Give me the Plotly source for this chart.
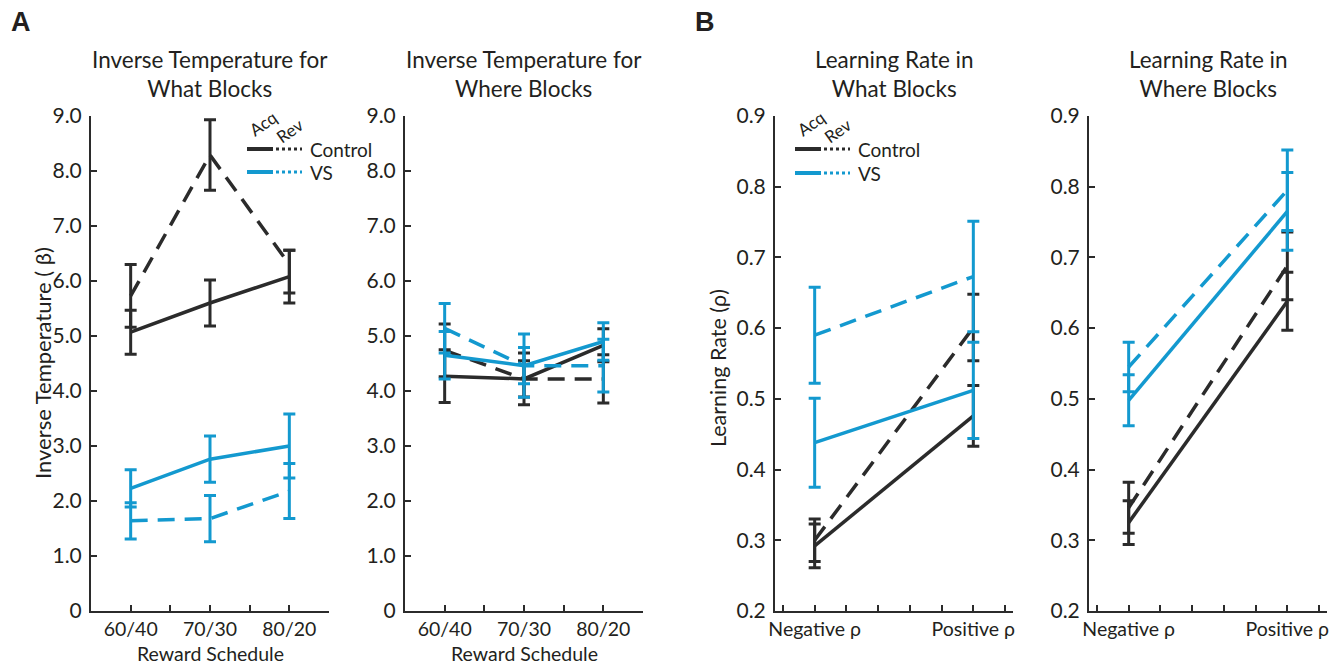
import plotly.graph_objects as go

# ---------------- data ----------------
schedules = ["60/40", "70/30", "80/20"]
signs = ["Negative ρ", "Positive ρ"]

# Inverse temperature, What blocks
beta_what_ctrl_acq = [5.07, 5.60, 6.08]
beta_what_ctrl_acq_err = [0.40, 0.42, 0.48]
beta_what_ctrl_rev = [5.73, 8.29, 6.30]
beta_what_ctrl_rev_err_up = [0.57, 0.64, 0.26]
beta_what_ctrl_rev_err_dn = [0.57, 0.64, 0.52]
beta_what_vs_acq = [2.23, 2.76, 3.00]
beta_what_vs_acq_err = [0.34, 0.42, 0.58]
beta_what_vs_rev = [1.64, 1.68, 2.18]
beta_what_vs_rev_err = [0.33, 0.42, 0.50]

# Inverse temperature, Where blocks
beta_where_ctrl_acq = [4.27, 4.22, 4.83]
beta_where_ctrl_acq_err = [0.48, 0.47, 0.30]
beta_where_ctrl_rev = [4.74, 4.22, 4.22]
beta_where_ctrl_rev_err = [0.48, 0.33, 0.44]
beta_where_vs_acq = [4.65, 4.46, 4.90]
beta_where_vs_acq_err = [0.43, 0.575, 0.34]
beta_where_vs_rev = [5.14, 4.46, 4.46]
beta_where_vs_rev_err = [0.45, 0.33, 0.48]

# Learning rate, What blocks
lr_what_ctrl_acq = [0.292, 0.476]
lr_what_ctrl_acq_err = [0.031, 0.043]
lr_what_ctrl_rev = [0.300, 0.601]
lr_what_ctrl_rev_err = [0.030, 0.047]
lr_what_vs_acq = [0.438, 0.512]
lr_what_vs_acq_err = [0.063, 0.068]
lr_what_vs_rev = [0.590, 0.673]
lr_what_vs_rev_err = [0.068, 0.078]

# Learning rate, Where blocks
lr_where_ctrl_acq = [0.325, 0.638]
lr_where_ctrl_acq_err = [0.031, 0.041]
lr_where_ctrl_rev = [0.346, 0.688]
lr_where_ctrl_rev_err = [0.036, 0.048]
lr_where_vs_acq = [0.498, 0.765]
lr_where_vs_acq_err = [0.036, 0.055]
lr_where_vs_rev = [0.545, 0.795]
lr_where_vs_rev_err = [0.035, 0.057]

beta_ticks = [0, 1, 2, 3, 4, 5, 6, 7, 8, 9]
lr_ticks = [0.2, 0.3, 0.4, 0.5, 0.6, 0.7, 0.8, 0.9]

# ---------------- style ----------------
W, H = 1342, 667
BLACK = "#2b2b2b"
BLUE = "#1399cf"
TXT = "#231f20"
FONT = "Lato"
DASH = "17px,10px"
LW = 3.5


def px(x):
    return x / W


def py(y):
    return 1 - y / H


fig = go.Figure()

xa = {1: "x", 2: "x2", 3: "x3", 4: "x4"}
ya = {1: "y", 2: "y2", 3: "y3", 4: "y4"}


def add(panel, xs, ys, err, color, dashed, err_dn=None):
    e = dict(type="data", array=err, visible=True, color=color,
             thickness=3, width=6)
    if err_dn is not None:
        e["symmetric"] = False
        e["arrayminus"] = err_dn
    fig.add_trace(go.Scatter(
        x=xs, y=ys, mode="lines", xaxis=xa[panel], yaxis=ya[panel],
        line=dict(color=color, width=LW, dash=DASH if dashed else "solid"),
        error_y=e, showlegend=False, hoverinfo="skip"))


xs3 = list(range(1, len(schedules) + 1))
xs2 = list(range(1, len(signs) + 1))

add(1, xs3, beta_what_ctrl_rev, beta_what_ctrl_rev_err_up, BLACK, True, beta_what_ctrl_rev_err_dn)
add(1, xs3, beta_what_ctrl_acq, beta_what_ctrl_acq_err, BLACK, False)
add(1, xs3, beta_what_vs_rev, beta_what_vs_rev_err, BLUE, True)
add(1, xs3, beta_what_vs_acq, beta_what_vs_acq_err, BLUE, False)

add(2, xs3, beta_where_ctrl_rev, beta_where_ctrl_rev_err, BLACK, True)
add(2, xs3, beta_where_ctrl_acq, beta_where_ctrl_acq_err, BLACK, False)
add(2, xs3, beta_where_vs_rev, beta_where_vs_rev_err, BLUE, True)
add(2, xs3, beta_where_vs_acq, beta_where_vs_acq_err, BLUE, False)

add(3, xs2, lr_what_ctrl_rev, lr_what_ctrl_rev_err, BLACK, True)
add(3, xs2, lr_what_ctrl_acq, lr_what_ctrl_acq_err, BLACK, False)
add(3, xs2, lr_what_vs_rev, lr_what_vs_rev_err, BLUE, True)
add(3, xs2, lr_what_vs_acq, lr_what_vs_acq_err, BLUE, False)

add(4, xs2, lr_where_ctrl_rev, lr_where_ctrl_rev_err, BLACK, True)
add(4, xs2, lr_where_ctrl_acq, lr_where_ctrl_acq_err, BLACK, False)
add(4, xs2, lr_where_vs_rev, lr_where_vs_rev_err, BLUE, True)
add(4, xs2, lr_where_vs_acq, lr_where_vs_acq_err, BLUE, False)

# ---------------- axes ----------------
panels_px = {1: (91, 329), 2: (405, 643), 3: (775, 1013), 4: (1089, 1327)}
ydom = [py(611), py(116)]

common = dict(showgrid=False, zeroline=False, showline=True, linecolor=BLACK,
              linewidth=2, ticks="inside", ticklen=6, tickwidth=1.5,
              tickcolor=BLACK, automargin=False,
              tickfont=dict(family=FONT, size=21, color=TXT))

sched_tv = [0.5 + 0.5 * i for i in range(2 * len(schedules) + 1)]
sched_tt = []
for v in sched_tv:
    if abs(v - round(v)) < 1e-9 and 1 <= round(v) <= len(schedules):
        sched_tt.append(schedules[int(round(v)) - 1])
    else:
        sched_tt.append("")

sign_tv = [round(0.8 + 0.2 * i, 2) for i in range(8)]
sign_tt = []
for v in sign_tv:
    if abs(v - round(v)) < 1e-9 and 1 <= round(v) <= len(signs):
        sign_tt.append(signs[int(round(v)) - 1])
    else:
        sign_tt.append("")

beta_tt = ["0" if v == 0 else f"{v:.1f}" for v in beta_ticks]
lr_tt = [f"{v:.1f}" for v in lr_ticks]

layout_axes = {}
for p in (1, 2, 3, 4):
    l, r = panels_px[p]
    suffix = "" if p == 1 else str(p)
    if p <= 2:
        xr, tv, tt = [0.5, len(schedules) + 0.5], sched_tv, sched_tt
        yr, ytv, ytt = [0, 9], beta_ticks, beta_tt
    else:
        xr, tv, tt = [0.75, len(signs) + 0.25], sign_tv, sign_tt
        yr, ytv, ytt = [0.2, 0.9], lr_ticks, lr_tt
    layout_axes["xaxis" + suffix] = dict(common, domain=[px(l), px(r)], range=xr,
                                         tickvals=tv, ticktext=tt,
                                         tickfont=dict(family=FONT, size=19.5, color=TXT),
                                         anchor=ya[p], ticklabelstandoff=0)
    layout_axes["yaxis" + suffix] = dict(common, domain=ydom, range=yr,
                                         tickvals=ytv, ticktext=ytt,
                                         anchor=xa[p], ticklabelstandoff=3)

fig.update_layout(**layout_axes)

# ---------------- annotations ----------------
ann = []


def note(text, x, y, size, angle=0, xanchor="center", yanchor="middle", family=FONT):
    ann.append(dict(text=text, x=px(x), y=py(y), xref="paper", yref="paper",
                    showarrow=False, xanchor=xanchor, yanchor=yanchor,
                    textangle=angle, font=dict(family=family, size=size, color=TXT)))


titles = {1: "Inverse Temperature for<br>What Blocks",
          2: "Inverse Temperature for<br>Where Blocks",
          3: "Learning Rate in<br>What Blocks",
          4: "Learning Rate in<br>Where Blocks"}
for p, t in titles.items():
    l, r = panels_px[p]
    note(t, (l + r) / 2, 74, 22.5)
for p in (1, 2):
    l, r = panels_px[p]
    note("Reward Schedule", (l + r) / 2, 666.5, 19.5, yanchor="bottom")
note("Inverse Temperature ( β)", 42, 363, 22, angle=-90)
note("Learning Rate (ρ)", 718, 368, 21.5, angle=-90)
note("<b>A</b>", 21, 22, 27, family="Liberation Sans")
note("<b>B</b>", 705, 22, 27, family="Liberation Sans")

# legends
shapes = []
for x0, yc, yv in ((247, 149, 172), (795, 149, 173)):
    note("Acq", x0 + 16, 124, 17, angle=-35)
    note("Rev", x0 + 43, 131, 17, angle=-35)
    for yy, col, lab in ((yc, BLACK, "Control"), (yv, BLUE, "VS")):
        shapes.append(dict(type="line", xref="paper", yref="paper",
                           x0=px(x0), x1=px(x0 + 26), y0=py(yy), y1=py(yy),
                           line=dict(color=col, width=4)))
        shapes.append(dict(type="line", xref="paper", yref="paper",
                           x0=px(x0 + 29), x1=px(x0 + 55), y0=py(yy), y1=py(yy),
                           line=dict(color=col, width=3, dash="dot")))
        note(lab, x0 + 61, yy, 19, xanchor="left")

fig.update_layout(template="none", width=W, height=H,
                  margin=dict(l=0, r=0, t=0, b=0, autoexpand=False),
                  paper_bgcolor="white", plot_bgcolor="white",
                  annotations=ann, shapes=shapes, showlegend=False)

fig.write_html("out.html")
